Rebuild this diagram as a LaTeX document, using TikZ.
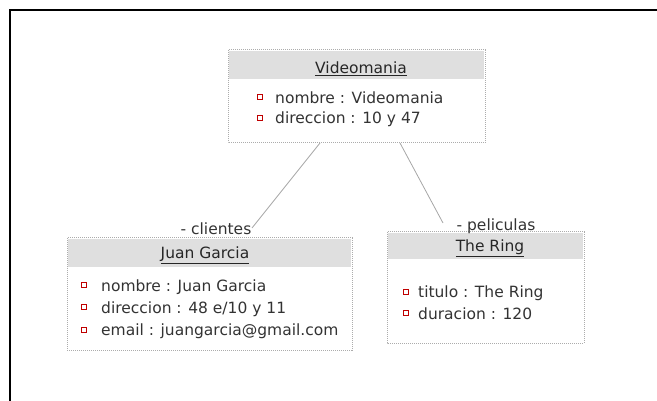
\documentclass[tikz,border=0pt]{standalone}
\usepackage{fontspec}
\setmainfont{DejaVu Sans}
\begin{document}
\begin{tikzpicture}[x=1pt,y=-1pt,
  objbox/.style={draw=gray!65, line width=1pt, densely dotted, fill=white},
  headband/.style={fill=gray!25},
  txt/.style={inner sep=0pt, font=\fontsize{15.5}{18}\selectfont, text=black!80},
  attr/.style={txt, anchor=west},
  objtitle/.style={txt, text=black!85},
  role/.style={txt},
  bullet/.style={draw=red!75!black, fill=white, line width=1pt, minimum size=5.5pt, inner sep=0pt},
  link/.style={draw=gray!70, line width=0.8pt}]
  \useasboundingbox (0,0) rectangle (657,401);
  % outer frame (top and left edges only)
  \draw[line width=2pt] (10,401) -- (10,10) -- (657,10);

  % Videomania object
  \draw[objbox] (228,50) rectangle (485,143);
  \fill[headband] (229,51) rectangle (484,79);
  \node[objtitle] (vt) at (361,69) {\underline{Videomania}};
  \node[bullet] (vb1) at (260,97) {};
  \node[attr] (va1) at (275,98) {nombre : Videomania};
  \node[bullet] (vb2) at (260,118) {};
  \node[attr] (va2) at (275,119) {direccion : 10 y 47};
  \coordinate (vl) at (320,143);
  \coordinate (vr) at (400,143);

  % Juan Garcia object
  \draw[objbox] (67,238) rectangle (352,350);
  \fill[headband] (68,239) rectangle (351,267);
  \node[objtitle] (jt) at (205,255) {\underline{Juan Garcia}};
  \node[bullet] (jb1) at (84,285) {};
  \node[attr] (ja1) at (101,287) {nombre : Juan Garcia};
  \node[bullet] (jb2) at (84,307) {};
  \node[attr] (ja2) at (101,309) {direccion : 48 e/10 y 11};
  \node[bullet] (jb3) at (84,330) {};
  \node[attr] (ja3) at (101,331) {email : juangarcia@gmail.com};
  \coordinate (jc) at (252,228);

  % The Ring object
  \draw[objbox] (387,232) rectangle (584,343);
  \fill[headband] (388,233) rectangle (583,259);
  \node[objtitle] (rt) at (490,248) {\underline{The Ring}};
  \node[bullet] (rb1) at (406,292) {};
  \node[attr] (ra1) at (418,293) {titulo : The Ring};
  \node[bullet] (rb2) at (406,313) {};
  \node[attr] (ra2) at (418,314) {duracion : 120};
  \coordinate (rc) at (443,223);

  % links
  \draw[link] (vl) -- (jc);
  \draw[link] (vr) -- (rc);
  \node[role] (cl) at (216,229) {- clientes};
  \node[role] (pl) at (496,226) {- peliculas};
\end{tikzpicture}
\end{document}
